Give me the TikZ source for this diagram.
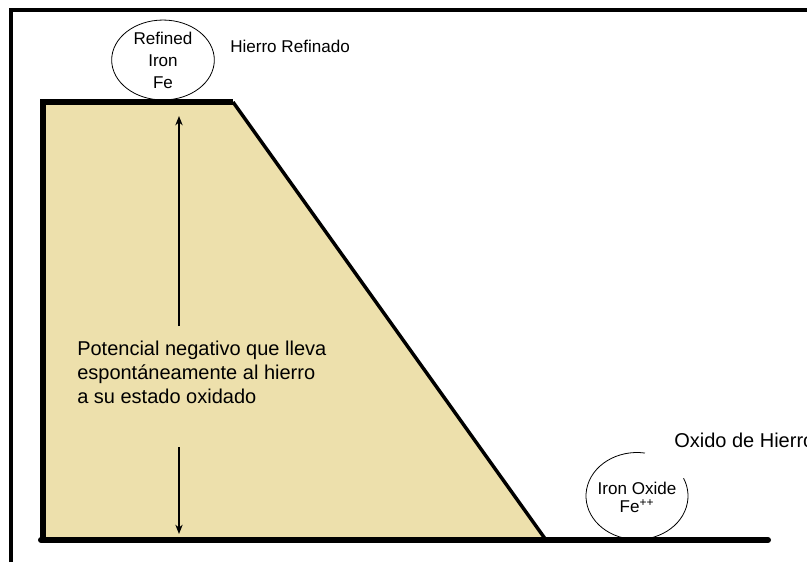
\documentclass[tikz,border=0pt]{standalone}
\usepackage{fontspec}
\setmainfont{Liberation Sans}
\usetikzlibrary{
		arrows.meta,
		shapes.geometric,
		positioning
	}
\definecolor{sand}{RGB}{237,224,172}
\tikzset{
		>={Stealth[length=7pt,width=5.5pt]},
		heavy/.style={line width=4.5pt},
		label text/.style={font=\fontsize{12.8}{16.5}\selectfont, inner sep=0pt},
		big text/.style={font=\fontsize{15}{18}\selectfont, inner sep=0pt}
	}

\begin{document}
\begin{tikzpicture}[x=0.75pt,y=-0.75pt]
    \useasboundingbox (0,0) rectangle (807,562);

    % the outer frame
    \draw[line width=2.4pt] (11,562) -- (11,10) -- (809,10);

    % the slope
    \fill[sand] (43,102) -- (233,102) -- (546,540) -- (43,540) -- cycle;
    \draw[heavy] (43,540) -- (43,102) -- (233,102);
    \draw[line width=2.6pt] (233,102) -- (546,540);
    \draw[heavy, line cap=round] (41,540) -- (768,540);

    % the two states
    \node[draw, ellipse, line width=0.6pt, minimum width=77pt, minimum height=58pt,
          align=center, label text] (fe) at (163,60) {Refined\\Iron\\Fe};
    \node[label text, anchor=west] (refinado) at (230,46) {Hierro Refinado};

    \coordinate (oxcentre) at (637,496);
    \draw[line width=0.6pt] (oxcentre) ++(-81:51 and 43.5)
        arc[start angle=-81, end angle=-384, x radius=51, y radius=43.5];
    \node[align=center, font=\fontsize{12.8}{13.5}\selectfont, inner sep=0pt] (oxide) at (637,497)
        {Iron Oxide\\Fe\textsuperscript{++}};
    \node[big text, anchor=west] (oxido) at (674,440) {Oxido de Hierro};

    % the potential
    \node[big text, align=left, anchor=west] (pot) at (77,372)
        {Potencial negativo que lleva\\espontáneamente al hierro\\a su estado oxidado};

    % the arrows
    \coordinate (uptip) at (179,116);
    \coordinate (upfoot) at (179,326);
    \coordinate (downfoot) at (179,447);
    \coordinate (downtip) at (179,534);
    \draw[->, line width=1pt] (upfoot) -- (uptip);
    \draw[->, line width=1pt] (downfoot) -- (downtip);

\end{tikzpicture}
\end{document}
